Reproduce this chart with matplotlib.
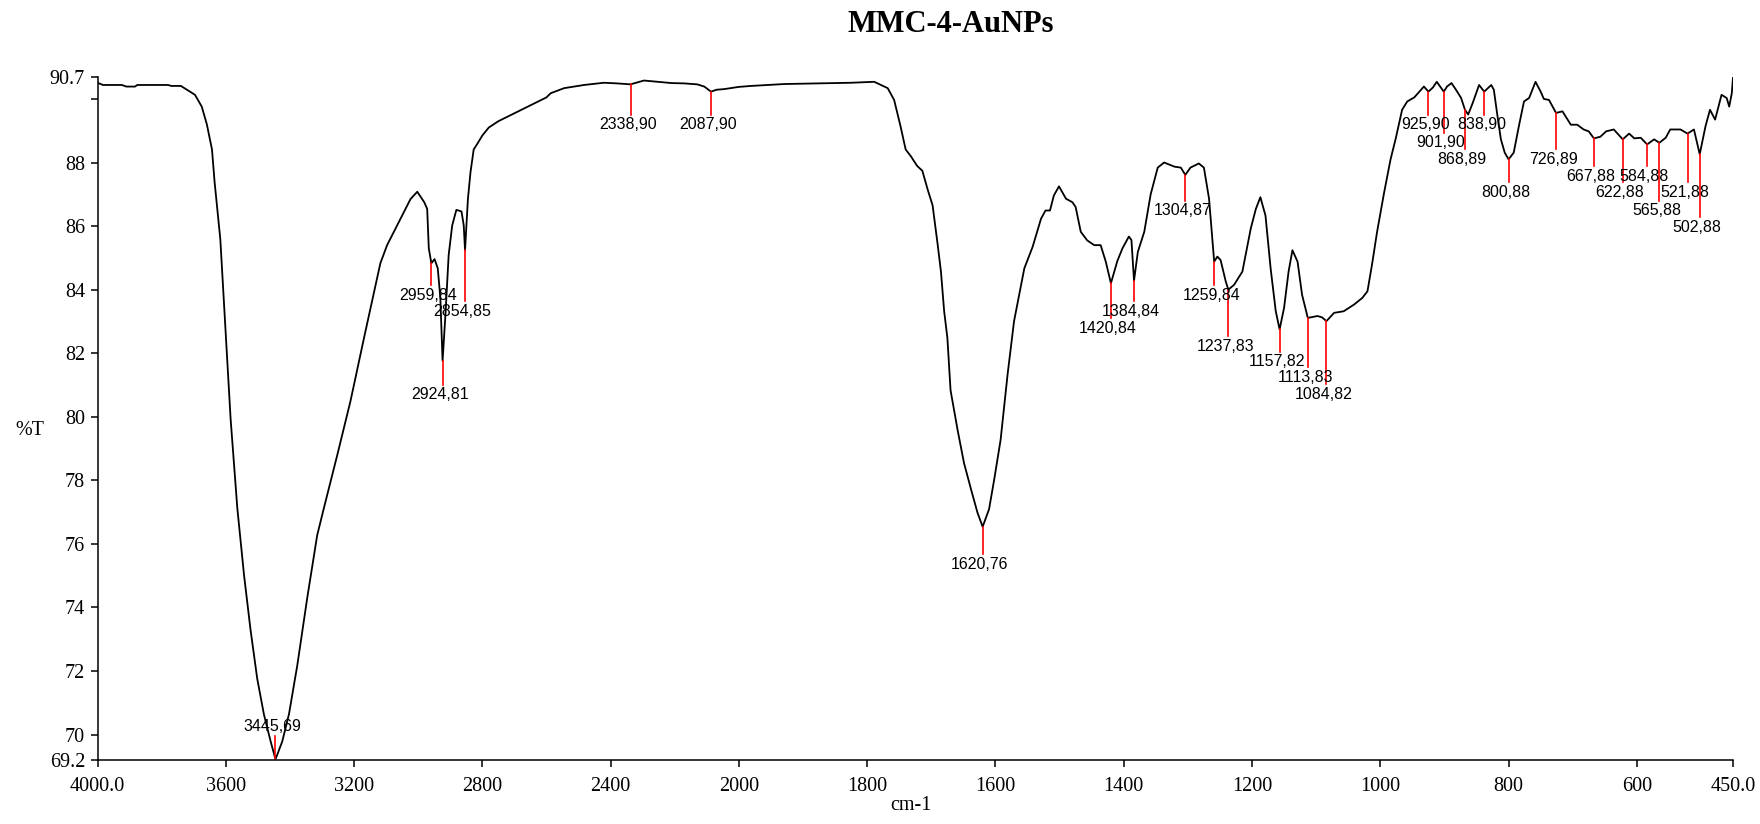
import numpy as np
import matplotlib
matplotlib.use('Agg')
import matplotlib.pyplot as plt

plt.rcParams['font.family'] = ['Liberation Serif', 'DejaVu Serif']

# spectrum (cm-1, %T)
wavenumber = [4000, 3983, 3924, 3910, 3883, 3876, 3780, 3770, 3740, 3721, 3696, 3675,
              3659, 3643, 3635, 3617, 3601, 3585, 3564, 3543, 3523, 3502, 3481, 3460,
              3445, 3424, 3403, 3377, 3346, 3315, 3294, 3252, 3211, 3169, 3118, 3097,
              3055, 3024, 3003, 2981, 2972, 2967, 2959, 2949, 2939, 2931, 2924, 2915,
              2905, 2894, 2881, 2865, 2858, 2854, 2845, 2837, 2827, 2815, 2800, 2780,
              2750, 2700, 2650, 2600, 2587, 2545, 2483, 2421, 2380, 2338, 2296, 2254,
              2210, 2171, 2130, 2108, 2087, 2070, 2046, 2000, 1981, 1929, 1877, 1825,
              1789, 1768, 1758, 1748, 1740, 1732, 1722, 1714, 1706, 1698, 1690, 1685,
              1680, 1675, 1670, 1659, 1649, 1638, 1628, 1620, 1610, 1602, 1592, 1581,
              1571, 1555, 1542, 1529, 1522, 1515, 1509, 1501, 1490, 1480, 1475, 1467,
              1457, 1446, 1436, 1428, 1420, 1410, 1402, 1392, 1388, 1384, 1378, 1368,
              1358, 1347, 1337, 1321, 1311, 1304, 1296, 1283, 1275, 1267, 1259, 1254,
              1249, 1241, 1237, 1228, 1215, 1202, 1194, 1187, 1179, 1171, 1163, 1157,
              1150, 1143, 1137, 1129, 1122, 1113, 1098, 1091, 1084, 1072, 1057, 1041,
              1028, 1020, 1013, 1005, 994, 984, 976, 966, 958, 947, 939, 932,
              925, 918, 912, 901, 896, 889, 882, 874, 868, 863, 856, 846,
              838, 827, 823, 818, 812, 806, 800, 792, 784, 776, 768, 758,
              750, 745, 737, 726, 716, 703, 693, 683, 675, 667, 657, 648,
              636, 622, 612, 604, 594, 584, 573, 565, 555, 548, 532, 521,
              511, 502, 493, 486, 478, 468, 460, 456, 452, 450]
transmittance = [90.51, 90.44, 90.44, 90.39, 90.39, 90.44, 90.44, 90.41, 90.41, 90.29, 90.13, 89.76,
                 89.2, 88.41, 87.4, 85.58, 82.76, 79.94, 77.12, 75.01, 73.31, 71.76, 70.63, 69.78,
                 69.22, 69.78, 70.64, 72.18, 74.3, 76.27, 77.13, 78.81, 80.5, 82.48, 84.83, 85.4,
                 86.23, 86.85, 87.08, 86.75, 86.54, 85.3, 84.83, 84.96, 84.67, 83.74, 81.76, 83.22,
                 85.09, 86.02, 86.51, 86.46, 86.02, 85.24, 86.85, 87.69, 88.41, 88.6, 88.85, 89.1,
                 89.3, 89.55, 89.8, 90.05, 90.18, 90.34, 90.44, 90.51, 90.49, 90.46, 90.58, 90.54,
                 90.5, 90.49, 90.46, 90.39, 90.23, 90.29, 90.31, 90.38, 90.41, 90.47, 90.49, 90.51,
                 90.54, 90.34, 89.97, 89.14, 88.41, 88.2, 87.89, 87.74, 87.17, 86.65, 85.4, 84.57,
                 83.32, 82.49, 80.83, 79.58, 78.54, 77.71, 76.98, 76.54, 77.09, 78.02, 79.27, 81.35,
                 83.01, 84.67, 85.35, 86.23, 86.49, 86.49, 86.96, 87.25, 86.86, 86.75, 86.6, 85.82,
                 85.55, 85.4, 85.4, 84.88, 84.2, 84.9, 85.3, 85.67, 85.56, 84.28, 85.19, 85.82,
                 87.0, 87.84, 88.0, 87.87, 87.84, 87.61, 87.84, 87.97, 87.84, 86.86, 84.88, 85.04,
                 84.93, 84.26, 84.0, 84.15, 84.57, 85.92, 86.54, 86.91, 86.33, 84.67, 83.32, 82.75,
                 83.43, 84.57, 85.24, 84.88, 83.84, 83.11, 83.17, 83.13, 83.01, 83.27, 83.32, 83.53,
                 83.74, 83.95, 84.78, 85.82, 87.06, 88.1, 88.75, 89.66, 89.92, 90.05, 90.23, 90.39,
                 90.23, 90.36, 90.54, 90.23, 90.39, 90.5, 90.29, 90.03, 89.66, 89.51, 89.87, 90.44,
                 90.23, 90.44, 90.29, 89.56, 88.73, 88.31, 88.1, 88.31, 89.14, 89.92, 90.03, 90.54,
                 90.23, 90.0, 89.97, 89.56, 89.61, 89.19, 89.19, 89.04, 88.98, 88.76, 88.81, 88.98,
                 89.04, 88.73, 88.91, 88.76, 88.78, 88.57, 88.73, 88.62, 88.78, 89.04, 89.04, 88.91,
                 89.04, 88.26, 89.14, 89.66, 89.35, 90.13, 90.03, 89.76, 90.18, 90.7]

# picked peaks: position, %T at the peak, bottom of the marker line, label
peak_wn = [3445, 2959, 2924, 2854, 2338, 2087, 1620, 1420, 1384, 1304, 1259, 1237, 1157, 1113,
           1084, 925, 901, 868, 838, 800, 726, 667, 622, 584, 565, 521, 502]
peak_t = [69.22, 84.83, 81.76, 85.24, 90.46, 90.23, 76.54, 84.2, 84.28, 87.61, 84.88, 84.0, 82.75,
          83.11, 83.01, 90.23, 90.23, 89.66, 90.23, 88.1, 89.56, 88.76, 88.73, 88.57, 88.62,
          88.91, 88.26]
peak_end = [69.97, 84.15, 81.01, 83.63, 89.51, 89.51, 75.68, 83.11, 83.63, 86.8, 84.15, 82.54,
            82.05, 81.55, 81.03, 89.51, 88.94, 88.41, 89.51, 87.38, 88.41, 87.89, 87.38, 87.89,
            86.8, 87.38, 86.28]
peak_labels = ['3445,69', '2959,84', '2924,81', '2854,85', '2338,90', '2087,90', '1620,76',
               '1420,84', '1384,84', '1304,87', '1259,84', '1237,83', '1157,82', '1113,83',
               '1084,82', '925,90', '901,90', '868,89', '838,90', '800,88', '726,89', '667,88',
               '622,88', '584,88', '565,88', '521,88', '502,88']

x_ticks = [4000, 3600, 3200, 2800, 2400, 2000, 1800, 1600, 1400, 1200, 1000, 800, 600, 450]
x_tick_labels = ['4000.0', '3600', '3200', '2800', '2400', '2000', '1800', '1600', '1400',
                 '1200', '1000', '800', '600', '450.0']
y_ticks = [69.2, 70, 72, 74, 76, 78, 80, 82, 84, 86, 88, 90, 90.7]
y_tick_labels = ['69.2', '70', '72', '74', '76', '78', '80', '82', '84', '86', '88', '', '90.7']


def fwd(x):
    # scale above 2000 cm-1 is half the scale below it
    x = np.asarray(x, dtype=float)
    return np.where(x > 2000, 2000 + (x - 2000) / 2, x)


def inv(u):
    u = np.asarray(u, dtype=float)
    return np.where(u > 2000, 2000 + (u - 2000) * 2, u)


fig = plt.figure(figsize=(17.6, 8.24), dpi=100)
ax = fig.add_axes([0.0554, 0.0777, 0.9293, 0.8292])

ax.set_xscale('function', functions=(fwd, inv))
ax.plot(wavenumber, transmittance, color='black', lw=1.3)
ax.set_xlim(4000, 450)
ax.set_ylim(69.2, 90.7)

for wn, t, t_end, lab in zip(peak_wn, peak_t, peak_end, peak_labels):
    ax.plot([wn, wn], [t, t_end], color='red', lw=1.2, clip_on=False)
    if t_end > t:
        ax.annotate(lab, xy=(wn, t_end), xytext=(-2, 1), textcoords='offset points',
                    ha='center', va='bottom', fontsize=11.5, family='Liberation Sans')
    else:
        ax.annotate(lab, xy=(wn, t_end), xytext=(-2, -2), textcoords='offset points',
                    ha='center', va='top', fontsize=11.5, family='Liberation Sans')

ax.set_xticks(x_ticks)
ax.set_xticklabels(x_tick_labels)
ax.set_yticks(y_ticks)
ax.set_yticklabels(y_tick_labels)
ax.minorticks_off()
ax.tick_params(axis='both', direction='out', length=5, width=1.1, labelsize=14.5)
ax.tick_params(axis='x', pad=7)
ax.tick_params(axis='y', pad=4)

for s in ['top', 'right']:
    ax.spines[s].set_visible(False)
for s in ['left', 'bottom']:
    ax.spines[s].set_linewidth(1.1)

fig.text(0.54, 0.97, 'MMC-4-AuNPs', ha='center', va='center', fontsize=22, fontweight='bold')
fig.text(0.5176, 0.022, 'cm-1', ha='center', va='center', fontsize=14.5)
fig.text(0.017, 0.478, '%T', ha='center', va='center', fontsize=14.5)

plt.savefig('out.png', dpi=100)
